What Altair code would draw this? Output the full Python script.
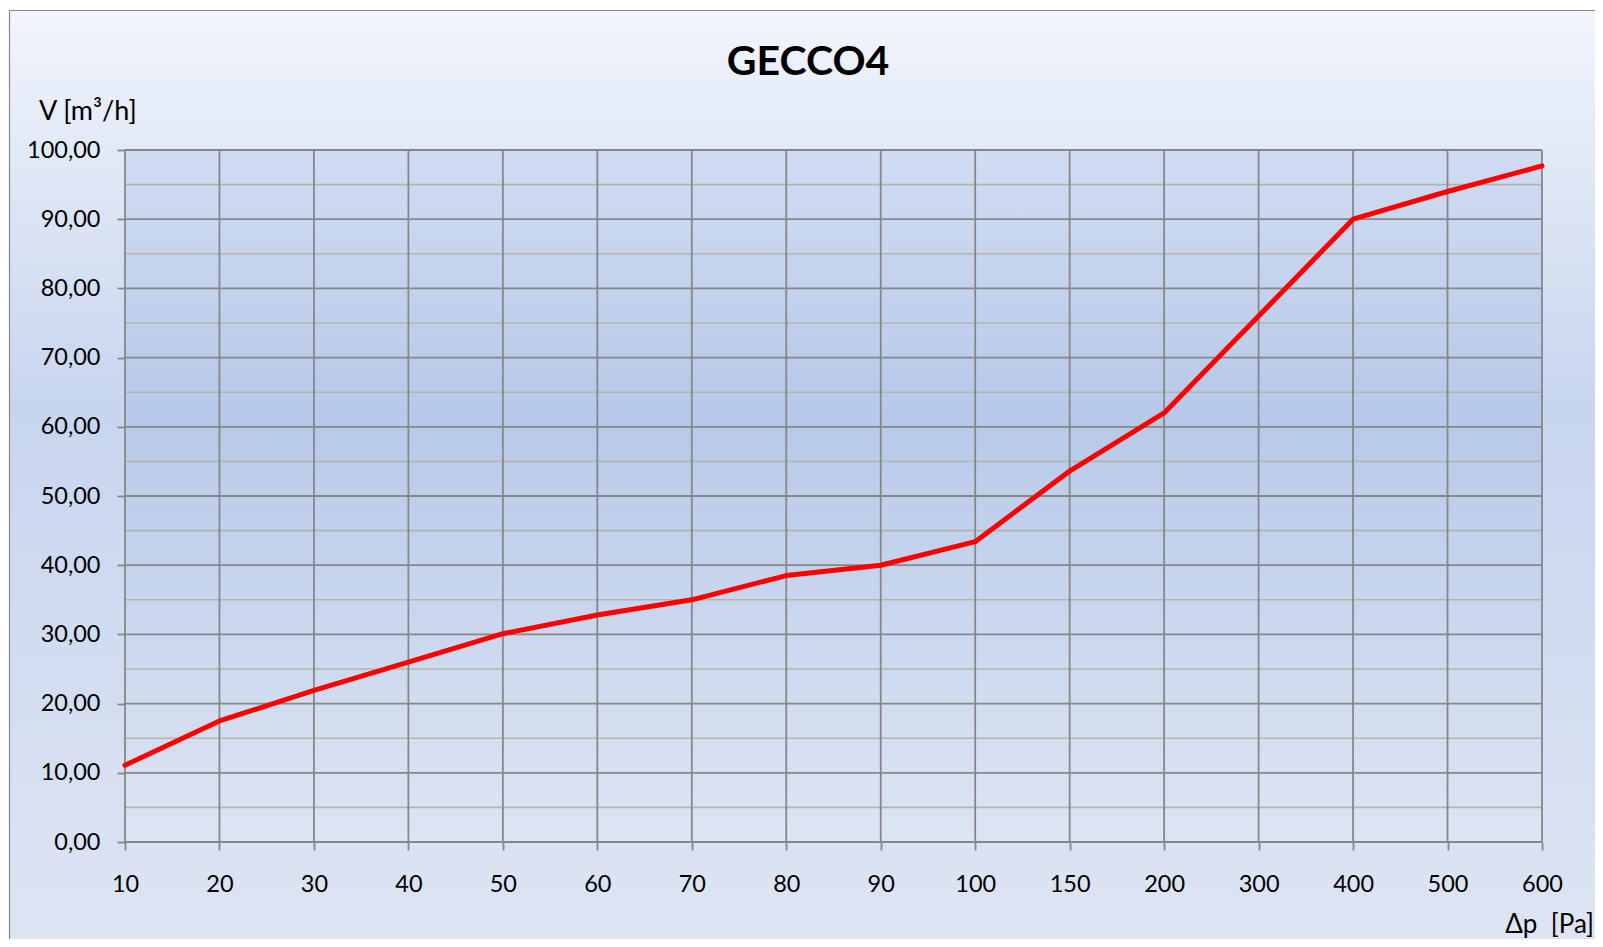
import altair as alt
import pandas as pd

# ---- data ----
pressure = ["10", "20", "30", "40", "50", "60", "70", "80", "90", "100",
            "150", "200", "300", "400", "500", "600"]
flow = [11.1, 17.5, 21.9, 26.0, 30.1, 32.8, 35.0, 38.5, 40.0, 43.4,
        53.6, 62.0, 76.0, 90.0, 94.0, 97.7]
major_y = [0, 10, 20, 30, 40, 50, 60, 70, 80, 90, 100]
minor_y = [5, 15, 25, 35, 45, 55, 65, 75, 85, 95]
title_text = "GECCO4"
y_title = "V [m³/h]"
x_title = "Δp\u00a0\u00a0[Pa]"

W, H = 1417, 692
PAD_L, PAD_T, PAD_R, PAD_B = 117, 142, 53, 97
FONT = "Lato"

df = pd.DataFrame({"p": pressure, "v": flow})
xcat = pd.DataFrame({"p": pressure})
dmaj = pd.DataFrame({"v": major_y})
dmin = pd.DataFrame({"v": minor_y})

xscale = alt.Scale(type="point", padding=0, domain=pressure)
yscale = alt.Scale(domain=[0, 100], nice=False, zero=True)

x_axis = alt.Axis(title=None, grid=False, domain=False, ticks=True, tickSize=8,
                  tickColor="#878787", tickWidth=1.8, labelFont=FONT, labelFontSize=23.5,
                  labelColor="#000000", labelAngle=0, labelBaseline="middle",
                  labelPadding=34, zindex=1)
y_axis = alt.Axis(title=None, grid=False, domain=False, ticks=True, tickSize=8,
                  tickColor="#878787", tickWidth=1.8, labelFont=FONT, labelFontSize=23.5,
                  labelColor="#000000", labelPadding=17, values=major_y,
                  labelExpr="replace(format(datum.value, '.2f'), '.', ',')", zindex=1)

outer_grad = alt.Gradient(
    gradient="linear", x1=0, y1=0, x2=0, y2=1,
    stops=[alt.GradientStop(offset=0, color="#f1f5fc"),
           alt.GradientStop(offset=0.4, color="#c7d5ee"),
           alt.GradientStop(offset=1, color="#e0e7f4")])
plot_grad = alt.Gradient(
    gradient="linear", x1=0, y1=0, x2=0, y2=1,
    stops=[alt.GradientStop(offset=0, color="#d0dcf2"),
           alt.GradientStop(offset=0.38, color="#b7c9e9"),
           alt.GradientStop(offset=1, color="#dde5f3")])

one = pd.DataFrame({"k": [0]})

outer_bg = alt.Chart(one).mark_rect(fill=outer_grad, stroke="#878787", strokeWidth=1.2).encode(
    x=alt.value(-115.5), x2=alt.value(W + 120),
    y=alt.value(-139.5), y2=alt.value(H + 160))

plot_bg = alt.Chart(one).mark_rect(fill=plot_grad).encode(
    x=alt.value(0), x2=alt.value(W), y=alt.value(0), y2=alt.value(H))

minor = alt.Chart(dmin).mark_rule(color="#b4b4ae", strokeWidth=1.6).encode(
    y=alt.Y("v:Q", scale=yscale, axis=y_axis))

major_h = alt.Chart(dmaj).mark_rule(color="#878787", strokeWidth=1.8).encode(
    y=alt.Y("v:Q", scale=yscale, axis=y_axis))

major_v = alt.Chart(xcat).mark_rule(color="#878787", strokeWidth=1.8).encode(
    x=alt.X("p:N", scale=xscale, sort=pressure, axis=x_axis))

line = alt.Chart(df).mark_line(color="#ff0000", strokeWidth=5, strokeCap="round",
                               strokeJoin="round").encode(
    x=alt.X("p:N", scale=xscale, sort=pressure, axis=x_axis),
    y=alt.Y("v:Q", scale=yscale, axis=y_axis))

title = alt.Chart(pd.DataFrame({"t": [title_text]})).mark_text(
    font=FONT, fontSize=41, fontWeight="bold", color="#000000",
    align="center", baseline="alphabetic").encode(
    text="t:N", x=alt.value(683), y=alt.value(-75))

ytitle = alt.Chart(pd.DataFrame({"t": [y_title]})).mark_text(
    font=FONT, fontSize=27, color="#000000", align="left", baseline="alphabetic").encode(
    text="t:N", x=alt.value(-86), y=alt.value(-30))

xtitle = alt.Chart(pd.DataFrame({"t": [x_title]})).mark_text(
    font=FONT, fontSize=26, color="#000000", align="right", baseline="alphabetic").encode(
    text="t:N", x=alt.value(1469), y=alt.value(783))

chart = alt.layer(outer_bg, plot_bg, minor, major_h, major_v, line, title, ytitle, xtitle).properties(
    width=W, height=H,
    autosize=alt.AutoSizeParams(type="none"),
    padding={"left": PAD_L, "top": PAD_T, "right": PAD_R, "bottom": PAD_B},
).configure_view(stroke=None).configure(background="white")

chart.save("out.html", embed_options={"renderer": "svg", "actions": False})
